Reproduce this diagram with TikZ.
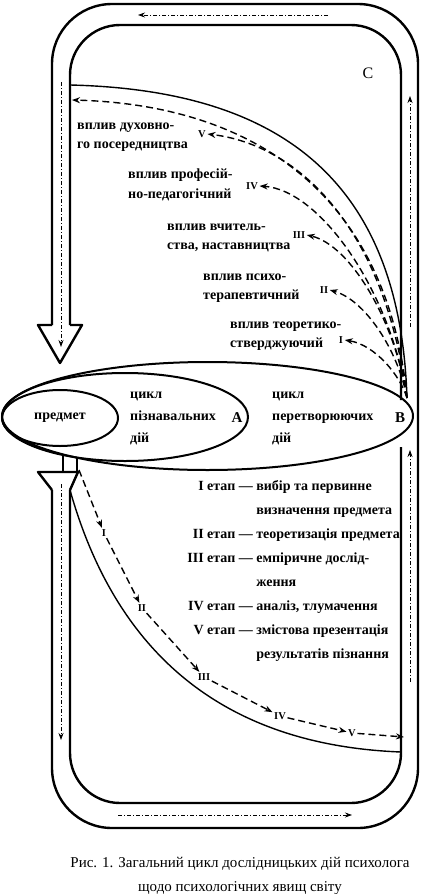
\documentclass[tikz,border=0pt]{standalone}
\usepackage{fontspec}
\setmainfont{Liberation Serif}
\usepackage{tikz}
\usetikzlibrary{positioning,shapes.geometric,arrows.meta}

\begin{document}
\begin{tikzpicture}[x=1pt,y=-1pt]
  \tikzstyle{band} = [line width=2.4pt, line join=round]
  \tikzstyle{oval} = [draw, ellipse, line width=2pt, inner sep=0pt]
  \tikzstyle{lbl} = [font=\fontsize{14}{19.5}\selectfont\bfseries, align=left,
    anchor=west, inner sep=0pt]
  \tikzstyle{num} = [font=\fontsize{10.5}{12}\selectfont\bfseries, inner sep=1.5pt]
  \tikzstyle{flow} = [line width=1.4pt, dash pattern=on 7pt off 4pt,
    -{Stealth[length=8pt,width=6pt]}]
  \tikzstyle{ring} = [line width=0.8pt, dash pattern=on 4pt off 2pt on 1pt off 2pt,
    -{Stealth[length=7pt,width=5pt]}]
  \tikzstyle{arc} = [line width=1.4pt]

  \useasboundingbox (0,0) rectangle (426,894);

  \draw[band, rounded corners=60] (52,325) -- (52,4) -- (418,4) -- (418,828)
    -- (52,828) -- (52,490);
  \draw[band, rounded corners=50] (70,325) -- (70,25) -- (401,25) -- (401,400);
  \draw[band, rounded corners=50] (401,447) -- (401,803) -- (70,803) -- (70,490);
  \draw[band] (52,325) -- (38,325) -- (60,363) -- (82,325) -- (70,325);
  \draw[band] (52,490) -- (38,472) -- (78,472) -- (70,490);
  \draw[arc] (63,455) -- (63,472) (77,458) -- (77,472);

  \node[oval, minimum width=411pt, minimum height=108pt] (cycB) at (207.5,416) {};
  \node[oval, minimum width=246pt, minimum height=88pt] (cycA) at (125,417) {};
  \node[oval, minimum width=116pt, minimum height=56pt,
    font=\fontsize{14}{16}\selectfont\bfseries] (obj) at (60,418) {предмет};

  \node[lbl, font=\fontsize{14}{22}\selectfont\bfseries] (txtA) at (130,418)
    {цикл\\пізнавальних\\дій};
  \node[font=\fontsize{15}{16}\selectfont\bfseries] (letA) at (237,418) {А};
  \node[lbl, font=\fontsize{14}{22}\selectfont\bfseries] (txtB) at (272,418)
    {цикл\\перетворюючих\\дій};
  \node[font=\fontsize{15}{16}\selectfont\bfseries] (letB) at (400,418) {В};
  \node[font=\fontsize{16}{16}\selectfont] (letC) at (368,73) {С};

  \node[lbl] (infV) at (77,137) {вплив духовно-\\го посередництва};
  \node[lbl] (infIV) at (128,185) {вплив професій-\\но-педагогічний};
  \node[lbl] (infIII) at (167,238) {вплив вчитель-\\ства, наставництва};
  \node[lbl] (infII) at (203,288) {вплив психо-\\терапевтичний};
  \node[lbl] (infI) at (230,336) {вплив теоретико-\\стверджуючий};

  \node[num] (uV) at (202,134) {V};
  \node[num] (uIV) at (252,186) {IV};
  \node[num] (uIII) at (299,235) {III};
  \node[num] (uII) at (324,290) {II};
  \node[num] (uI) at (341,340) {I};

  \coordinate (bIn) at (407,398);
  \coordinate (uStart) at (70,85);
  \coordinate (lHit) at (72,100);
  \draw[arc] (uStart) .. controls (280,90) and (400,180) .. (bIn);
  \draw[flow] (bIn) .. controls (388,200) and (260,105) .. (lHit);
  \draw[flow] (bIn) .. controls (385,230) and (300,145) .. (uV.east);
  \draw[flow] (bIn) .. controls (390,290) and (320,190) .. (uIV.east);
  \draw[flow] (bIn) .. controls (395,320) and (350,245) .. (uIII.east);
  \draw[flow] (bIn) .. controls (398,350) and (365,300) .. (uII.east);
  \draw[flow] (bIn) .. controls (400,375) and (375,345) .. (uI.east);

  \node[anchor=north east, inner sep=0pt, font=\fontsize{14}{24}\selectfont\bfseries]
    (stages) at (400,473) {%
    \begin{tabular}{@{}r@{\ }l@{\ }l@{}}
      I   & етап — & вибір та первинне\\
          &        & визначення предмета\\
      II  & етап — & теоретизація предмета\\
      III & етап — & емпіричне дослід-\\
          &        & ження\\
      IV  & етап — & аналіз, тлумачення\\
      V   & етап — & змістова презентація\\
          &        & результатів пізнання
    \end{tabular}};

  \coordinate (dStart) at (79,470);
  \node[num] (dI) at (104,533) {I};
  \node[num] (dII) at (142,608) {II};
  \node[num] (dIII) at (204,677) {III};
  \node[num] (dIV) at (280,716) {IV};
  \node[num] (dV) at (352,733) {V};
  \coordinate (dEnd) at (404,737);
  \draw[flow] (dStart) -- (dI);
  \draw[flow] (dI) -- (dII);
  \draw[flow] (dII) -- (dIII);
  \draw[flow] (dIII) -- (dIV);
  \draw[flow] (dIV) -- (dV);
  \draw[flow] (dV) -- (dEnd);

  \coordinate (dSolid) at (70,490);
  \coordinate (rHit) at (401,752);
  \draw[arc] (dSolid) .. controls (115,650) and (220,745) .. (rHit);

  \coordinate (topA) at (328,15);
  \coordinate (topB) at (138,15);
  \coordinate (leftA) at (61,82);
  \coordinate (leftB) at (61,347);
  \coordinate (rightA) at (410,327);
  \coordinate (rightB) at (410,96);
  \coordinate (rlowA) at (410,682);
  \coordinate (rlowB) at (410,450);
  \coordinate (botA) at (118,815);
  \coordinate (botB) at (352,815);
  \coordinate (llowA) at (61,484);
  \coordinate (llowB) at (61,740);
  \draw[ring] (topA) -- (topB);
  \draw[ring] (leftA) -- (leftB);
  \draw[ring] (rightA) -- (rightB);
  \draw[ring] (rlowA) -- (rlowB);
  \draw[ring] (botA) -- (botB);
  \draw[ring] (llowA) -- (llowB);

  \node[font=\fontsize{15}{24}\selectfont, align=center] (cap) at (240,876)
    {Рис. 1. Загальний цикл дослідницьких дій психолога\\
     щодо психологічних явищ світу};
\end{tikzpicture}
\end{document}
